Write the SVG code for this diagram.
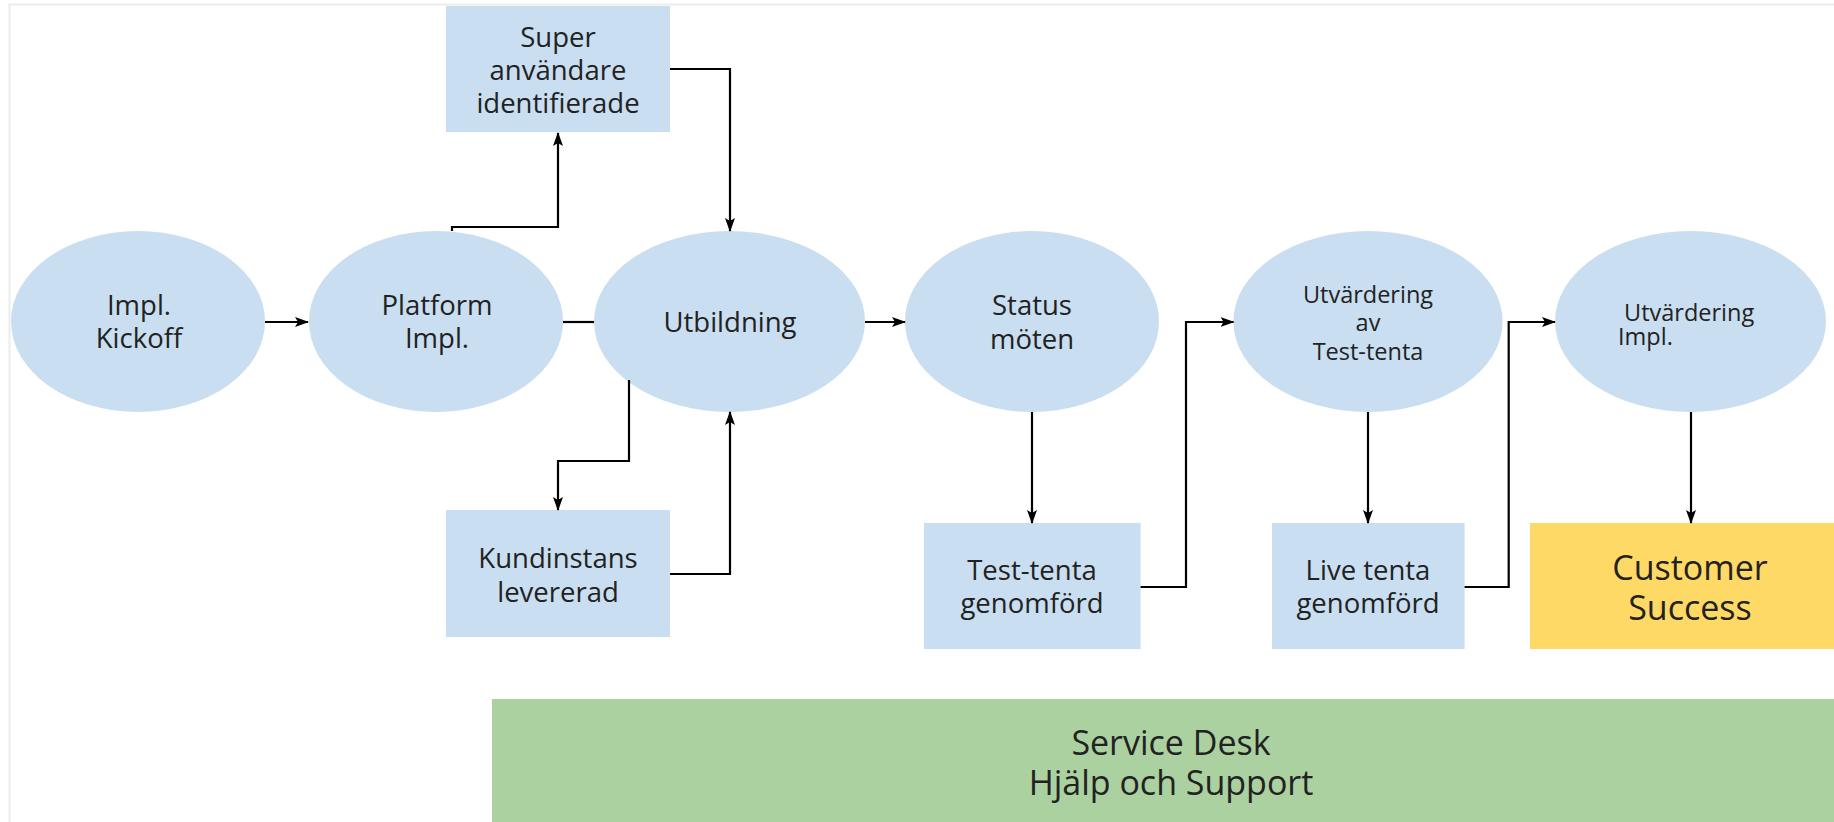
<svg xmlns="http://www.w3.org/2000/svg" width="1834" height="822" viewBox="0 0 1834 822">
<style>
.bl{fill:#c9def0}
.ye{fill:#ffd966}
.gr{fill:#abd1a0}
text{font-family:"Open Sans","Liberation Sans",sans-serif;fill:#222;text-anchor:middle}
.t27{font-size:27.5px}
.t23{font-size:23.5px}
.t33{font-size:34px}
.c{fill:none;stroke:#000;stroke-width:2.2}
</style>
<defs>
<marker id="ah" markerUnits="userSpaceOnUse" markerWidth="14" markerHeight="12" viewBox="0 0 14 12" refX="13" refY="6" orient="auto">
<path d="M0,1 L14,6 L0,11 L3,6 Z" fill="#000"/>
</marker>
</defs>
<rect width="1834" height="822" fill="#fff"/>
<rect x="9.5" y="4.5" width="1900" height="900" fill="none" stroke="#ececec" stroke-width="2"/>

<g id="service-desk">
<rect class="gr" x="492" y="699" width="1342" height="123"/>
<text class="t33" x="1171" y="755">Service Desk</text>
<text class="t33" x="1171" y="795">Hjälp och Support</text>
</g>

<g id="kickoff">
<ellipse class="bl" cx="138" cy="321.5" rx="127" ry="90.5"/>
<text class="t27" x="139" y="314.5">Impl.</text>
<text class="t27" x="139" y="347.5">Kickoff</text>
</g>
<g id="platform">
<ellipse class="bl" cx="436" cy="321.5" rx="127" ry="90.5"/>
<text class="t27" x="437" y="314.5">Platform</text>
<text class="t27" x="437" y="347.5">Impl.</text>
</g>
<g id="utbildning">
<ellipse class="bl" cx="729.5" cy="321.5" rx="135.5" ry="90.5"/>
<text class="t27" x="730" y="332">Utbildning</text>
</g>
<g id="status">
<ellipse class="bl" cx="1032" cy="321.5" rx="127" ry="90.5"/>
<text class="t27" x="1032" y="314.5">Status</text>
<text class="t27" x="1032" y="349">möten</text>
</g>
<g id="utv-test">
<ellipse class="bl" cx="1368" cy="321.5" rx="134.6" ry="90.5"/>
<text class="t23" x="1368" y="303">Utvärdering</text>
<text class="t23" x="1368" y="331">av</text>
<text class="t23" x="1368" y="360">Test-tenta</text>
</g>
<g id="utv-impl">
<ellipse class="bl" cx="1690.5" cy="321.5" rx="135.5" ry="90.5"/>
<text class="t23" x="1624" y="321" style="text-anchor:start">Utvärdering</text>
<text class="t23" x="1618" y="345" style="text-anchor:start">Impl.</text>
</g>

<g id="super">
<rect class="bl" x="446" y="6" width="224" height="126"/>
<text class="t27" x="558" y="46.5">Super</text>
<text class="t27" x="558" y="79.5">användare</text>
<text class="t27" x="558" y="112.5">identifierade</text>
</g>
<g id="kundinstans">
<rect class="bl" x="446" y="510" width="224" height="127"/>
<text class="t27" x="558" y="567.5">Kundinstans</text>
<text class="t27" x="558" y="601.5">levererad</text>
</g>
<g id="test-tenta">
<rect class="bl" x="924" y="523" width="216.6" height="126"/>
<text class="t27" x="1032" y="579.5">Test-tenta</text>
<text class="t27" x="1032" y="612.5">genomförd</text>
</g>
<g id="live-tenta">
<rect class="bl" x="1272" y="523" width="192.6" height="126"/>
<text class="t27" x="1368" y="579.5">Live tenta</text>
<text class="t27" x="1368" y="612.5">genomförd</text>
</g>
<g id="customer-success">
<rect class="ye" x="1530" y="523" width="304" height="126"/>
<text class="t33" x="1690" y="580">Customer</text>
<text class="t33" x="1690" y="620">Success</text>
</g>

<g id="connectors">
<path class="c" d="M265,322 H308" marker-end="url(#ah)"/>
<path class="c" d="M563,322 H594"/>
<path class="c" d="M452,231 V227 H558 V133" marker-end="url(#ah)"/>
<path class="c" d="M670,69 H730 V231" marker-end="url(#ah)"/>
<path class="c" d="M629,380 V461 H558 V510" marker-end="url(#ah)"/>
<path class="c" d="M670,574 H730 V412" marker-end="url(#ah)"/>
<path class="c" d="M865,322 H905" marker-end="url(#ah)"/>
<path class="c" d="M1032,412 V523" marker-end="url(#ah)"/>
<path class="c" d="M1140.6,587 H1186 V322 H1233.5" marker-end="url(#ah)"/>
<path class="c" d="M1368,412 V523" marker-end="url(#ah)"/>
<path class="c" d="M1464.6,587 H1508.7 V322 H1555" marker-end="url(#ah)"/>
<path class="c" d="M1691,412 V523" marker-end="url(#ah)"/>
</g>
</svg>
